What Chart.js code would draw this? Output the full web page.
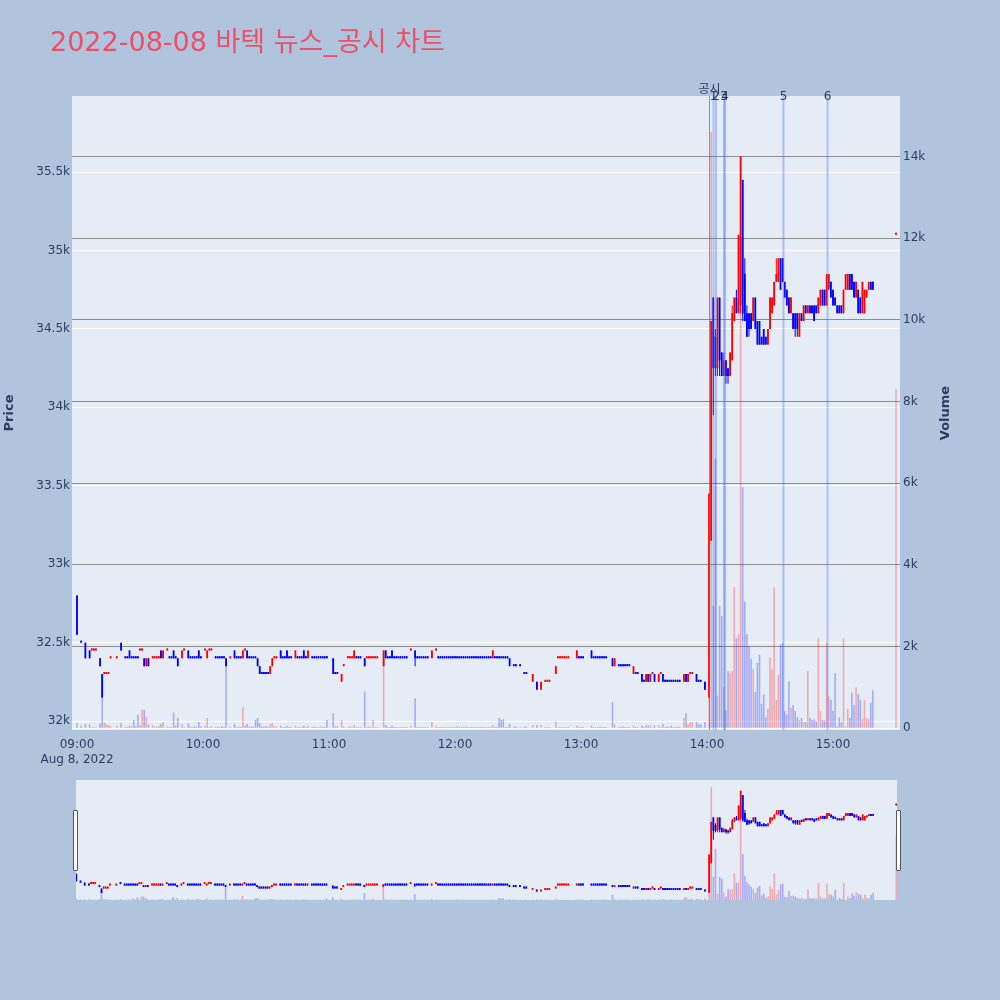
<!DOCTYPE html>
<html><head><meta charset="utf-8">
<script src="https://cdn.jsdelivr.net/npm/chart.js@4.4.1/dist/chart.umd.min.js"></script>
<style>
html,body{margin:0;padding:0;background:#B0C4DE;width:1000px;height:1000px;overflow:hidden}
#main{position:absolute;left:0;top:0}
#slider{position:absolute;left:76px;top:780px;background:#E5ECF6}
.handle{position:absolute;width:3px;height:59px;background:#fff;border:1px solid #555;top:810px;border-radius:1px}
</style></head><body>
<canvas id="main" width="1000" height="775"></canvas>
<canvas id="slider" width="821" height="120"></canvas>
<div class="handle" style="left:73px"></div>
<div class="handle" style="left:896px"></div>
<script>
// ---- DATA (minutes after 09:00, 2022-08-08) ----
const minutes = [
0,2,4,6,7,8,9,11,12,13,
14,15,16,19,21,23,24,25,26,27,
28,29,30,31,32,33,34,36,37,38,
39,40,41,43,44,45,46,47,48,50,
51,53,54,55,56,57,58,59,61,62,
63,64,66,67,68,69,70,71,73,75,
76,77,78,79,80,81,82,83,84,85,
86,87,88,89,90,91,92,93,94,95,
97,98,99,100,101,102,104,105,106,107,
108,109,110,112,113,114,115,116,117,118,
119,122,123,124,126,127,129,130,131,132,
133,134,135,137,138,139,140,141,142,143,
146,147,148,149,150,151,152,153,154,155,
156,157,159,161,162,163,164,165,166,167,
169,171,172,173,174,175,176,177,178,179,
180,181,182,183,184,185,186,187,188,189,
190,191,192,193,194,195,196,197,198,199,
200,201,202,203,204,205,206,208,209,211,
213,214,217,219,221,223,224,225,228,229,
230,231,232,233,234,238,239,240,241,245,
246,247,248,249,250,251,252,255,256,258,
259,260,261,262,263,265,266,267,269,270,
271,272,273,274,275,277,278,279,280,281,
282,283,284,285,286,287,289,290,291,292,
293,295,296,297,299,301,302,303,304,305,
306,307,308,309,310,311,312,313,314,315,
316,317,318,319,320,321,322,323,324,325,
326,327,328,329,330,331,332,333,334,335,
336,337,338,339,340,341,342,343,344,345,
346,347,348,349,350,351,352,353,354,355,
356,357,358,359,360,361,362,363,364,365,
366,367,368,369,370,371,372,373,374,375,
376,377,378,379,390];
const opens = [
32800,32500,32500,32450,32450,32450,32450,32400,32300,32300,
32300,32300,32400,32400,32500,32400,32400,32450,32400,32400,
32400,32400,32450,32450,32400,32350,32400,32400,32400,32400,
32400,32450,32400,32450,32400,32400,32450,32400,32400,32400,
32450,32450,32400,32400,32400,32400,32450,32400,32450,32400,
32450,32450,32400,32400,32400,32400,32400,32400,32400,32450,
32400,32400,32400,32400,32450,32450,32400,32400,32400,32400,
32400,32350,32300,32300,32300,32300,32300,32350,32400,32400,
32450,32400,32400,32450,32400,32400,32400,32400,32400,32400,
32450,32400,32400,32400,32400,32400,32400,32400,32400,32400,
32400,32400,32300,32300,32250,32350,32400,32400,32400,32400,
32400,32400,32400,32400,32400,32400,32400,32400,32400,32400,
32350,32450,32400,32400,32450,32400,32400,32400,32400,32400,
32400,32400,32450,32450,32400,32400,32400,32400,32400,32400,
32400,32450,32400,32400,32400,32400,32400,32400,32400,32400,
32400,32400,32400,32400,32400,32400,32400,32400,32400,32400,
32400,32400,32400,32400,32400,32400,32400,32400,32400,32400,
32400,32400,32400,32400,32400,32400,32400,32350,32350,32350,
32300,32300,32250,32250,32200,32250,32250,32250,32300,32400,
32400,32400,32400,32400,32400,32400,32400,32400,32400,32450,
32400,32400,32400,32400,32400,32400,32400,32400,32350,32350,
32350,32350,32350,32350,32350,32300,32300,32300,32300,32250,
32250,32300,32250,32300,32300,32250,32300,32300,32250,32250,
32250,32250,32250,32250,32250,32250,32250,32300,32250,32300,
32300,32300,32250,32250,32250,32150,33150,34700,34450,34250,
34700,34350,34200,34300,34250,34200,34300,34550,34700,34600,
34650,35450,34850,34600,34600,34600,34550,34700,34550,34550,
34450,34500,34450,34400,34500,34600,34650,34800,34800,34950,
34950,34800,34750,34700,34600,34600,34600,34600,34450,34600,
34550,34650,34600,34650,34650,34650,34650,34600,34650,34750,
34750,34650,34750,34800,34750,34700,34650,34650,34650,34600,
34750,34750,34850,34850,34800,34700,34750,34700,34600,34600,
34700,34750,34800,34800,35100];
const highs = [
32800,32500,32500,32450,32450,32450,32450,32400,32300,32300,
32300,32300,32400,32400,32500,32400,32400,32450,32400,32400,
32400,32400,32450,32450,32400,32400,32400,32400,32400,32400,
32400,32450,32450,32450,32400,32400,32450,32400,32400,32450,
32450,32450,32400,32400,32400,32400,32450,32400,32450,32450,
32450,32450,32400,32400,32400,32400,32400,32400,32400,32450,
32400,32400,32400,32450,32450,32450,32400,32400,32400,32400,
32400,32350,32300,32300,32300,32300,32350,32400,32400,32400,
32450,32400,32400,32450,32400,32400,32450,32400,32400,32400,
32450,32400,32450,32400,32400,32400,32400,32400,32400,32400,
32400,32400,32300,32300,32300,32350,32400,32400,32400,32450,
32400,32400,32400,32400,32400,32400,32400,32400,32400,32400,
32450,32450,32400,32400,32450,32400,32400,32400,32400,32400,
32400,32400,32450,32450,32400,32400,32400,32400,32400,32400,
32450,32450,32400,32400,32400,32400,32400,32400,32400,32400,
32400,32400,32400,32400,32400,32400,32400,32400,32400,32400,
32400,32400,32400,32400,32400,32400,32400,32400,32450,32400,
32400,32400,32400,32400,32400,32400,32400,32350,32350,32350,
32300,32300,32300,32250,32250,32250,32250,32250,32350,32400,
32400,32400,32400,32400,32400,32450,32400,32400,32400,32450,
32400,32400,32400,32400,32400,32400,32400,32400,32400,32350,
32350,32350,32350,32350,32350,32350,32300,32300,32300,32250,
32300,32300,32300,32300,32300,32300,32300,32300,32250,32250,
32250,32250,32250,32250,32250,32250,32300,32300,32300,32300,
32300,32300,32250,32250,32250,33450,34550,34700,34500,34700,
34700,34350,34350,34300,34250,34350,34650,34700,34750,35100,
35600,35450,34950,34650,34600,34600,34700,34700,34550,34550,
34450,34500,34450,34500,34700,34700,34800,34950,34950,34950,
34950,34800,34750,34700,34700,34600,34600,34600,34600,34600,
34650,34650,34650,34650,34650,34650,34650,34700,34750,34750,
34750,34850,34850,34800,34750,34700,34650,34650,34650,34750,
34850,34850,34850,34850,34800,34800,34750,34700,34800,34750,
34750,34800,34800,34800,35100];
const lows = [
32550,32500,32400,32400,32450,32450,32450,32350,32150,32300,
32300,32300,32400,32400,32450,32400,32400,32400,32400,32400,
32400,32400,32450,32450,32350,32350,32350,32400,32400,32400,
32400,32400,32400,32450,32400,32400,32400,32400,32350,32400,
32450,32400,32400,32400,32400,32400,32400,32400,32450,32400,
32450,32450,32400,32400,32400,32400,32400,32350,32400,32400,
32400,32400,32400,32400,32450,32400,32400,32400,32400,32400,
32350,32300,32300,32300,32300,32300,32300,32350,32400,32400,
32400,32400,32400,32400,32400,32400,32400,32400,32400,32400,
32400,32400,32400,32400,32400,32400,32400,32400,32400,32400,
32400,32300,32300,32300,32250,32350,32400,32400,32400,32400,
32400,32400,32400,32350,32400,32400,32400,32400,32400,32400,
32350,32400,32400,32400,32400,32400,32400,32400,32400,32400,
32400,32400,32450,32350,32400,32400,32400,32400,32400,32400,
32400,32450,32400,32400,32400,32400,32400,32400,32400,32400,
32400,32400,32400,32400,32400,32400,32400,32400,32400,32400,
32400,32400,32400,32400,32400,32400,32400,32400,32400,32400,
32400,32400,32400,32400,32400,32400,32350,32350,32350,32350,
32300,32300,32250,32200,32200,32250,32250,32250,32300,32400,
32400,32400,32400,32400,32400,32400,32400,32400,32400,32400,
32400,32400,32400,32400,32400,32400,32400,32350,32350,32350,
32350,32350,32350,32350,32350,32300,32300,32300,32250,32250,
32250,32250,32250,32300,32250,32250,32300,32250,32250,32250,
32250,32250,32250,32250,32250,32250,32250,32250,32250,32300,
32300,32250,32250,32250,32200,32150,33150,33950,34200,34200,
34200,34200,34200,34150,34150,34200,34300,34550,34600,34600,
34600,34550,34550,34450,34450,34500,34550,34500,34400,34400,
34400,34400,34400,34400,34500,34600,34650,34800,34800,34750,
34800,34700,34650,34600,34600,34500,34450,34450,34450,34550,
34550,34600,34600,34600,34600,34550,34600,34600,34650,34650,
34650,34650,34750,34700,34650,34650,34600,34600,34600,34600,
34750,34750,34750,34750,34700,34700,34600,34600,34600,34600,
34700,34750,34750,34750,35100];
const closes = [
32550,32500,32400,32400,32450,32450,32450,32350,32150,32300,
32300,32300,32400,32400,32450,32400,32400,32400,32400,32400,
32400,32400,32450,32450,32350,32400,32350,32400,32400,32400,
32400,32400,32450,32450,32400,32400,32400,32400,32350,32450,
32450,32400,32400,32400,32400,32400,32400,32400,32450,32450,
32450,32450,32400,32400,32400,32400,32400,32350,32400,32400,
32400,32400,32400,32450,32450,32400,32400,32400,32400,32400,
32350,32300,32300,32300,32300,32300,32350,32400,32400,32400,
32400,32400,32400,32400,32400,32400,32450,32400,32400,32400,
32400,32400,32450,32400,32400,32400,32400,32400,32400,32400,
32400,32300,32300,32300,32300,32350,32400,32400,32400,32450,
32400,32400,32400,32350,32400,32400,32400,32400,32400,32400,
32450,32400,32400,32400,32400,32400,32400,32400,32400,32400,
32400,32400,32450,32400,32400,32400,32400,32400,32400,32400,
32450,32450,32400,32400,32400,32400,32400,32400,32400,32400,
32400,32400,32400,32400,32400,32400,32400,32400,32400,32400,
32400,32400,32400,32400,32400,32400,32400,32400,32450,32400,
32400,32400,32400,32400,32400,32400,32350,32350,32350,32350,
32300,32300,32300,32200,32250,32250,32250,32250,32350,32400,
32400,32400,32400,32400,32400,32450,32400,32400,32400,32400,
32400,32400,32400,32400,32400,32400,32400,32350,32400,32350,
32350,32350,32350,32350,32350,32350,32300,32300,32250,32250,
32300,32250,32300,32300,32250,32300,32300,32250,32250,32250,
32250,32250,32250,32250,32250,32250,32300,32250,32300,32300,
32300,32250,32250,32250,32200,33450,34550,34250,34250,34700,
34300,34200,34300,34200,34200,34350,34600,34700,34600,35100,
35600,34600,34550,34450,34500,34500,34700,34500,34400,34400,
34400,34400,34400,34500,34700,34700,34800,34850,34950,34750,
34800,34700,34650,34600,34700,34500,34500,34500,34600,34550,
34650,34600,34650,34600,34600,34550,34600,34700,34750,34650,
34650,34850,34850,34700,34650,34650,34600,34600,34600,34750,
34850,34850,34750,34750,34700,34800,34600,34600,34800,34750,
34750,34800,34750,34750,35100];
const volumes = [
120,60,100,90,30,30,20,110,1300,140,
100,80,50,60,120,30,30,60,40,200,
50,330,80,450,450,280,90,80,40,40,
60,100,150,40,30,30,380,60,250,100,
30,120,40,30,50,30,150,40,60,250,
30,50,30,40,30,50,30,1620,40,100,
30,40,30,520,60,100,40,40,40,200,
250,120,40,30,60,30,100,120,50,40,
60,30,30,60,30,30,60,30,30,30,
60,30,60,30,40,30,30,40,30,30,
200,370,40,40,200,50,30,50,30,80,
30,30,30,900,30,40,30,200,30,30,
1650,80,30,30,60,30,30,30,30,30,
30,30,60,730,30,30,30,30,30,30,
150,60,30,30,30,30,30,30,30,30,
30,50,30,30,30,40,30,30,30,30,
30,30,30,30,30,30,30,30,80,30,
30,250,200,220,30,30,100,40,40,30,
40,40,80,80,80,30,30,30,170,30,
30,30,30,30,30,60,30,30,30,60,
30,30,30,30,30,30,30,640,100,30,
30,40,30,30,30,60,30,30,60,30,
80,60,80,30,70,70,30,100,30,40,
30,60,30,30,40,30,250,370,100,150,
150,150,100,100,150,2000,14600,3000,6600,800,
3000,2750,1000,440,1400,1350,1400,3450,2200,2300,
12100,5900,3100,2300,2000,1700,1450,890,1600,1800,
600,830,270,480,1740,1450,3450,690,1300,2050,
2100,420,340,1150,500,570,420,270,200,250,
150,150,1400,250,200,220,170,2200,420,200,
190,2100,780,690,420,1350,40,270,150,2200,
40,480,250,870,560,1000,830,690,220,690,
250,220,630,930,8300];

// tick labels
const xTickMinutes = [0,60,120,180,240,300,360];
const xTickLabels = [['09:00','Aug 8, 2022'],'10:00','11:00','12:00','13:00','14:00','15:00'];
const priceTicks = [32000,32500,33000,33500,34000,34500,35000,35500];
const priceTickLabels = ['32k','32.5k','33k','33.5k','34k','34.5k','35k','35.5k'];
const volTicks = [0,2000,4000,6000,8000,10000,12000,14000];
const volTickLabels = ['0','2k','4k','6k','8k','10k','12k','14k'];

// news / disclosure markers
const annoLabels = ['공시','1','2','3','4','5','6'];
const annoMinutes = [301.2,303.1,304.3,308.1,308.6,336.4,357.4];

const titleText = '2022-08-08 바텍 뉴스_공시 차트';

// ---- build ----
const UP='#ff0000', DN='#0000ff';
const dirs=[]; {let pc=null,pd=false;
 for(let i=0;i<opens.length;i++){const o=opens[i],c=closes[i];let u;
  if(c>o)u=true;else if(c<o)u=false;else if(pc!==null&&c!==pc)u=c>pc;else u=pd;
  dirs.push(u);pc=c;pd=u;}}
const candleCol = dirs.map(u=>u?UP:DN);
const volCol = dirs.map(u=>u?'rgba(255,0,0,0.28)':'rgba(0,0,255,0.28)');

function datasets(){
  return [
    {label:'vol',data:minutes.map((t,i)=>({x:t,y:volumes[i]})),yAxisID:'y1',backgroundColor:volCol,barThickness:1.6,inflateAmount:0,grouped:false,order:3},
    {label:'wick',data:minutes.map((t,i)=>({x:t,y:[lows[i],highs[i]]})),yAxisID:'y',backgroundColor:candleCol,barThickness:1,inflateAmount:0,grouped:false,minBarLength:2,order:2},
    {label:'body',data:minutes.map((t,i)=>({x:t,y:[Math.min(opens[i],closes[i]),Math.max(opens[i],closes[i])]})),yAxisID:'y',backgroundColor:candleCol,barThickness:1.8,inflateAmount:0,grouped:false,minBarLength:2,order:1}
  ];
}
const FONT='"DejaVu Sans", "Noto Sans CJK KR", sans-serif';
const TXT='#2a3f5f';
const PMIN=31943, PMAX=35985, VMIN=-44, VMAX=15482;

const bgPlugin={id:'bg',beforeDraw(ch){const a=ch.chartArea,c=ch.ctx;c.save();c.fillStyle='#E5ECF6';c.fillRect(a.left,a.top,a.right-a.left,a.bottom-a.top);c.restore();}};
const annoPlugin={id:'anno',afterDatasetsDraw(ch){
  const c=ch.ctx,a=ch.chartArea,x=ch.scales.x;c.save();
  annoMinutes.forEach((t,i)=>{const px=x.getPixelForValue(t);
    if(i===0){c.strokeStyle='rgba(60,140,60,0.7)';c.lineWidth=1;}else{c.strokeStyle='rgba(65,105,225,0.35)';c.lineWidth=2;}
    c.beginPath();c.moveTo(px,a.top);c.lineTo(px,a.bottom);c.stroke();});
  c.fillStyle=TXT;c.font='12px '+FONT;c.textAlign='center';c.textBaseline='middle';
  annoMinutes.forEach((t,i)=>{const px=x.getPixelForValue(t);c.fillText(annoLabels[i],px,i===0?90:96.5);});
  c.restore();}};
const textPlugin={id:'txt',afterDraw(ch){
  const c=ch.ctx;c.save();
  c.fillStyle='rgb(236,80,104)';c.font='27px '+FONT;c.textAlign='left';c.textBaseline='alphabetic';c.fillText(titleText,50,51);
  c.fillStyle=TXT;c.font='bold 13px '+FONT;c.textAlign='center';c.textBaseline='middle';
  c.translate(9.5,413);c.rotate(-Math.PI/2);c.fillText('Price',0,0);c.setTransform(1,0,0,1,0,0);
  c.translate(946,413);c.rotate(-Math.PI/2);c.fillText('Volume',0,0);
  c.restore();}};

new Chart(document.getElementById('main'),{
  type:'bar',data:{datasets:datasets()},
  options:{responsive:false,animation:false,devicePixelRatio:1,
    layout:{padding:{top:96,left:0,right:0,bottom:0}},
    plugins:{legend:{display:false},tooltip:{enabled:false},title:{display:false}},
    scales:{
      x:{type:'linear',min:-2.38,max:391.9,offset:false,grid:{display:false},border:{display:false},
        ticks:{color:TXT,font:{family:FONT,size:12},padding:0,maxRotation:0,autoSkip:false,
          callback:(v)=>{const k=xTickMinutes.indexOf(v);return k<0?'':xTickLabels[k];}},
        afterBuildTicks:s=>{s.ticks=xTickMinutes.map(v=>({value:v}));},
        afterFit:s=>{s.height=45;}},
      y:{type:'linear',position:'left',min:PMIN,max:PMAX,grid:{color:'#ffffff',lineWidth:1,drawTicks:false},border:{display:false},
        ticks:{color:TXT,font:{family:FONT,size:12},padding:2,autoSkip:false,
          callback:(v)=>{const k=priceTicks.indexOf(v);return k<0?'':priceTickLabels[k];}},
        afterBuildTicks:s=>{s.ticks=priceTicks.map(v=>({value:v}));},
        afterFit:s=>{s.width=72;}},
      y1:{type:'linear',position:'right',min:VMIN,max:VMAX,grid:{color:(ctx)=>ctx.tick&&ctx.tick.value===0?'#ffffff':'rgba(125,125,125,0.85)',lineWidth:1,drawTicks:false},border:{display:false},
        ticks:{color:TXT,font:{family:FONT,size:12},padding:3,autoSkip:false,
          callback:(v)=>{const k=volTicks.indexOf(v);return k<0?'':volTickLabels[k];}},
        afterBuildTicks:s=>{s.ticks=volTicks.map(v=>({value:v}));},
        afterFit:s=>{s.width=100;}}
    }},
  plugins:[bgPlugin,annoPlugin,textPlugin]
});

new Chart(document.getElementById('slider'),{
  type:'bar',data:{datasets:datasets()},
  options:{responsive:false,animation:false,devicePixelRatio:1,
    layout:{padding:0},
    plugins:{legend:{display:false},tooltip:{enabled:false}},
    scales:{
      x:{type:'linear',min:-0.14,max:390.33,offset:false,display:false},
      y:{type:'linear',min:31914,max:35961,display:false},
      y1:{type:'linear',min:0,max:15482,display:false}
    }}
});
</script>
</body></html>
